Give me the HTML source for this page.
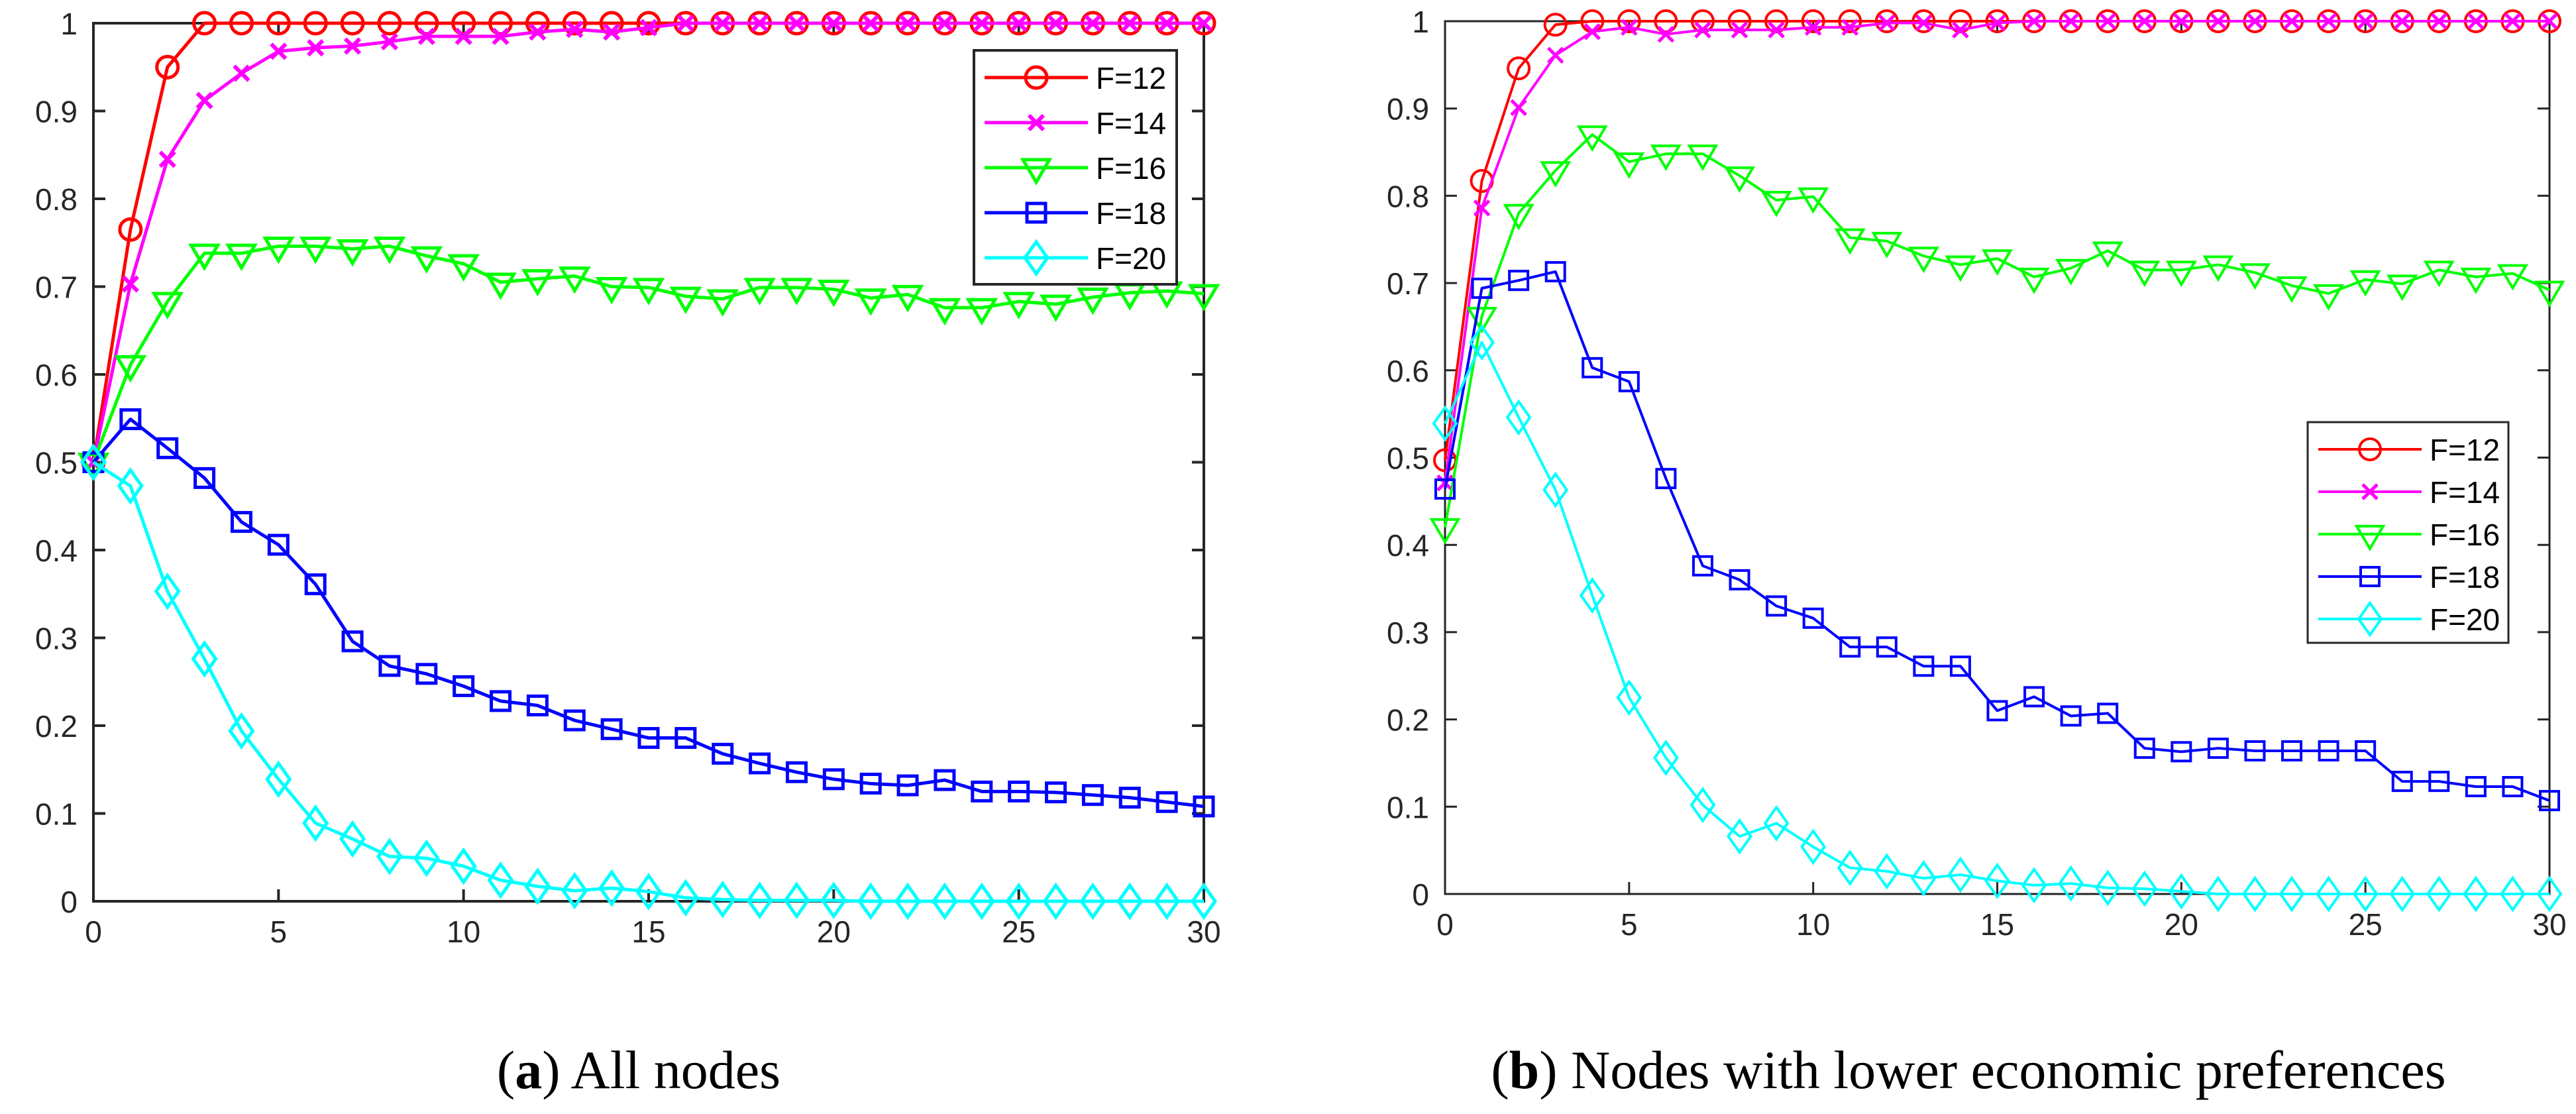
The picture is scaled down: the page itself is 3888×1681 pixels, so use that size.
<!DOCTYPE html>
<html><head><meta charset="utf-8">
<style>
html,body{margin:0;padding:0;background:#fff;}
svg{display:block;}
text{font-family:"Liberation Sans",sans-serif;}
</style></head>
<body>
<svg id="fig" width="3888" height="1681" viewBox="0 0 3888 1681" xmlns="http://www.w3.org/2000/svg">
<g id="pa"></g>
<g id="pb"></g>
<text x="964" y="1642" text-anchor="middle" style="font-family:'Liberation Serif',serif;font-size:82px" fill="#000">(<tspan font-weight="bold">a</tspan>) All nodes</text>
<text x="2971" y="1642" text-anchor="middle" style="font-family:'Liberation Serif',serif;font-size:82px" fill="#000">(<tspan font-weight="bold">b</tspan>) Nodes with lower economic preferences</text>
</svg>
<script>
const xTicks=[0,5,10,15,20,25,30];
const yTicks=[0,0.1,0.2,0.3,0.4,0.5,0.6,0.7,0.8,0.9,1];
const yTickLabels=["0","0.1","0.2","0.3","0.4","0.5","0.6","0.7","0.8","0.9","1"];
const seriesNames=["F=12","F=14","F=16","F=18","F=20"];
const a12=[0.5,0.765,0.95,1,1,1,1,1,1,1,1,1,1,1,1,1,1,1,1,1,1,1,1,1,1,1,1,1,1,1,1];
const a14=[0.5,0.703,0.845,0.912,0.943,0.968,0.972,0.974,0.979,0.985,0.985,0.985,0.99,0.993,0.99,0.995,1,1,1,1,1,1,1,1,1,1,1,1,1,1,1];
const a16=[0.5,0.611,0.683,0.738,0.738,0.746,0.746,0.743,0.746,0.735,0.726,0.705,0.709,0.712,0.700,0.699,0.689,0.686,0.699,0.699,0.697,0.687,0.691,0.676,0.676,0.683,0.680,0.688,0.693,0.695,0.692];
const a18=[0.5,0.549,0.516,0.482,0.432,0.406,0.361,0.296,0.268,0.259,0.245,0.228,0.223,0.206,0.196,0.186,0.186,0.168,0.157,0.147,0.139,0.134,0.132,0.138,0.125,0.125,0.124,0.121,0.118,0.113,0.108];
const a20=[0.5,0.473,0.353,0.276,0.194,0.139,0.089,0.071,0.051,0.049,0.040,0.024,0.017,0.012,0.015,0.011,0.004,0.002,0.001,0.001,0.001,0,0,0,0,0,0,0,0,0,0];
const b12=[0.497,0.817,0.946,0.996,1,1,1,1,1,1,1,1,1,1,1,1,1,1,1,1,1,1,1,1,1,1,1,1,1,1,1];
const b14=[0.471,0.786,0.901,0.961,0.988,0.993,0.985,0.990,0.990,0.990,0.993,0.993,0.998,0.998,0.990,0.998,1,1,1,1,1,1,1,1,1,1,1,1,1,1,1];
const b16=[0.420,0.662,0.780,0.829,0.870,0.839,0.848,0.848,0.823,0.795,0.799,0.752,0.748,0.731,0.721,0.728,0.707,0.717,0.737,0.715,0.715,0.721,0.712,0.697,0.688,0.704,0.699,0.715,0.707,0.711,0.692];
const b18=[0.464,0.694,0.703,0.713,0.603,0.587,0.476,0.376,0.360,0.330,0.316,0.283,0.283,0.261,0.261,0.210,0.226,0.204,0.207,0.167,0.163,0.167,0.164,0.164,0.164,0.164,0.129,0.129,0.123,0.123,0.107];
const b20=[0.539,0.632,0.546,0.463,0.342,0.225,0.156,0.102,0.066,0.081,0.054,0.030,0.026,0.018,0.022,0.015,0.010,0.012,0.007,0.006,0.003,0,0,0,0,0,0,0,0,0,0];

const NS="http://www.w3.org/2000/svg";
const colors=["#ff0000","#ff00ff","#00ff00","#0000ff","#00ffff"];
const markers=["circle","x","tri","square","diamond"];
function mk(tag,attrs,parent){const e=document.createElementNS(NS,tag);for(const k in attrs)e.setAttribute(k,attrs[k]);parent.appendChild(e);return e;}
function marker(g,type,cx,cy,color,sw){
  let e;
  if(type==="circle"){e=mk("circle",{cx:cx,cy:cy,r:16,fill:"none",stroke:color,"stroke-width":sw},g);}
  else if(type==="x"){e=mk("path",{d:`M${cx-11} ${cy-11}L${cx+11} ${cy+11}M${cx-11} ${cy+11}L${cx+11} ${cy-11}`,stroke:color,"stroke-width":sw+1,fill:"none"},g);}
  else if(type==="tri"){e=mk("path",{d:`M${cx-20} ${cy-12}L${cx+20} ${cy-12}L${cx} ${cy+22}Z`,stroke:color,"stroke-width":sw,fill:"none"},g);}
  else if(type==="square"){e=mk("rect",{x:cx-14,y:cy-14,width:28,height:28,stroke:color,"stroke-width":sw,fill:"none"},g);}
  else {e=mk("path",{d:`M${cx} ${cy-24}L${cx+17} ${cy}L${cx} ${cy+24}L${cx-17} ${cy}Z`,stroke:color,"stroke-width":sw,fill:"none"},g);}
  
  
}
function panel(g,L,R,T,B,series,lw,axw,leg){
  const sx=v=>L+(R-L)*v/30, sy=v=>B-(B-T)*v;
  const ax=mk("rect",{x:L,y:T,width:R-L,height:B-T,fill:"none",stroke:"#262626","stroke-width":axw},g);
  
  
  xTicks.forEach(t=>{
    const x=sx(t);
    mk("path",{d:`M${x} ${B}V${B-18}M${x} ${T}V${T+18}`,stroke:"#262626","stroke-width":axw},g);
    const tx=mk("text",{x:x,y:B+62,"text-anchor":"middle","font-size":46,fill:"#262626"},g);
    tx.textContent=t;
    
    
  });
  yTicks.forEach((t,i)=>{
    const y=sy(t);
    mk("path",{d:`M${L} ${y}H${L+18}M${R} ${y}H${R-18}`,stroke:"#262626","stroke-width":axw},g);
    const ty=mk("text",{x:L-24,y:y+17,"text-anchor":"end","font-size":46,fill:"#262626"},g);
    ty.textContent=yTickLabels[i];
    
    
  });
  series.forEach((s,k)=>{
    const sg=mk("g",{},g);
    
    
    const pts=s.map((v,i)=>sx(i)+","+sy(v)).join(" ");
    const pl=mk("polyline",{points:pts,fill:"none",stroke:colors[k],"stroke-width":lw,"stroke-linejoin":"round"},sg);
    
    
    s.forEach((v,i)=>marker(sg,markers[k],sx(i),sy(v),colors[k],lw));
  });
  const lg=mk("g",{},g);
  
  
  const lb=mk("rect",{x:leg.x,y:leg.y,width:leg.w,height:leg.h,fill:"#fff",stroke:"#262626","stroke-width":axw},lg);
  
  
  seriesNames.forEach((n,k)=>{
    const y=leg.y+leg.r0+k*leg.dy;
    const eg=mk("g",{},lg);
    
    
    mk("path",{d:`M${leg.x+16} ${y}H${leg.x+172}`,stroke:colors[k],"stroke-width":lw},eg);
    marker(eg,markers[k],leg.x+94,y,colors[k],lw);
    const t=mk("text",{x:leg.x+184,y:y+17,"font-size":46,fill:"#000"},eg);
    t.textContent=n;
  });
}
panel(document.getElementById("pa"),141,1817,35,1360,[a12,a14,a16,a18,a20],5,4,{x:1470,y:76,w:306,h:353,r0:41,dy:68});
panel(document.getElementById("pb"),2181,3848,32,1349,[b12,b14,b16,b18,b20],4,3,{x:3483,y:637,w:303,h:333,r0:41,dy:64});
</script>
</body></html>
